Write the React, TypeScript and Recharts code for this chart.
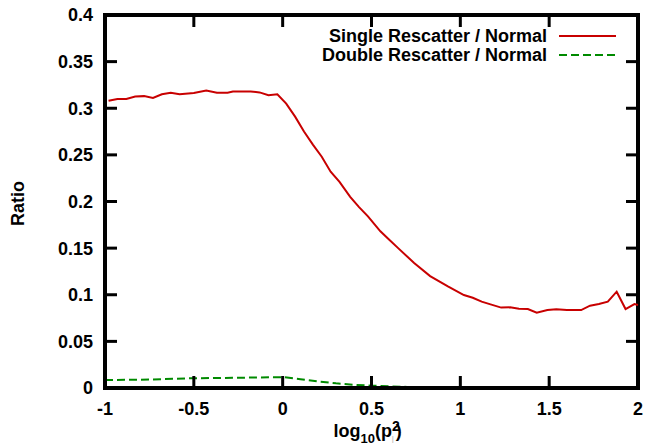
import React, { useEffect, useState } from 'react';
import { LineChart, Line, XAxis, YAxis, ReferenceLine } from 'recharts';

const redX = [-0.98, -0.93, -0.88, -0.83, -0.78, -0.73, -0.68, -0.63, -0.58, -0.5, -0.43, -0.37, -0.31, -0.28, -0.18, -0.13, -0.08, -0.03, 0.02, 0.07, 0.12, 0.17, 0.22, 0.27, 0.32, 0.38, 0.43, 0.48, 0.55, 0.6, 0.65, 0.74, 0.83, 0.93, 1.02, 1.07, 1.12, 1.17, 1.23, 1.28, 1.33, 1.38, 1.43, 1.49, 1.54, 1.6, 1.68, 1.73, 1.78, 1.83, 1.88, 1.93, 1.98, 2.0];
const redY = [0.308, 0.31, 0.31, 0.3125, 0.313, 0.311, 0.315, 0.3167, 0.315, 0.3163, 0.319, 0.3167, 0.3167, 0.318, 0.318, 0.317, 0.314, 0.315, 0.305, 0.291, 0.275, 0.261, 0.248, 0.232, 0.221, 0.205, 0.194, 0.184, 0.168, 0.159, 0.15, 0.134, 0.12, 0.109, 0.0997, 0.0968, 0.0926, 0.0897, 0.0862, 0.0865, 0.085, 0.0847, 0.0808, 0.0836, 0.0844, 0.0836, 0.0836, 0.0883, 0.09, 0.0926, 0.1033, 0.0847, 0.09, 0.089];

const greenX = [-1, -0.75, -0.5, -0.25, -0.05, 0.01, 0.1, 0.2, 0.3, 0.4, 0.5, 0.6, 0.7, 0.8, 0.85];
const greenY = [0.0085, 0.009, 0.0105, 0.011, 0.0115, 0.0115, 0.0095, 0.007, 0.005, 0.0035, 0.0025, 0.0018, 0.0012, 0.0008, 0.0006];

const xTicks = [-1, -0.5, 0, 0.5, 1, 1.5, 2];
const yTicks = [0, 0.05, 0.1, 0.15, 0.2, 0.25, 0.3, 0.35, 0.4];

const seriesNames = ['Single Rescatter / Normal', 'Double Rescatter / Normal'];
const RED = '#c80000';
const GREEN = '#008a00';
const FONT = 'Liberation Sans, Arial, sans-serif';

const redMap = new Map(redX.map((x, i) => [x, redY[i]] as [number, number]));
const greenMap = new Map(greenX.map((x, i) => [x, greenY[i]] as [number, number]));
const allX = Array.from(new Set([...redX, ...greenX])).sort((a, b) => a - b);
const chartData = allX.map((x) => ({
  x,
  red: redMap.has(x) ? redMap.get(x) : null,
  green: greenMap.has(x) ? greenMap.get(x) : null,
}));

const X_MIN = xTicks[0];
const X_MAX = xTicks[xTicks.length - 1];
const Y_MIN = yTicks[0];
const Y_MAX = yTicks[yTicks.length - 1];
const TICK_LEN_Y = 12 / 932.5;
const TICK_LEN_X = 12 / 177.8;

const tickStyle = { fontSize: 18, fontWeight: 700, fill: '#000', fontFamily: FONT };
const axisLineStyle = { stroke: '#000', strokeWidth: 4, strokeLinecap: 'square' as const };
const tickLineStyle = { stroke: '#000', strokeWidth: 3 };

const XLabel = (props: any) => {
  const vb = props.viewBox || {};
  const cx = vb.x + vb.width / 2;
  return (
    <text x={cx - 38} y={437} fontFamily={FONT} fontWeight="bold" fontSize={18} fill="#000">
      log
      <tspan dy={6} fontSize={13}>10</tspan>
      <tspan dy={-6} fontSize={18}>(p</tspan>
      <tspan dy={-6} fontSize={14}>2</tspan>
      <tspan dx={-8} dy={10} fontSize={8} fill="#aaa" fontWeight="normal">|</tspan>
      <tspan dy={-4} dx={2} fontSize={18}>)</tspan>
    </text>
  );
};

const YLabel = (props: any) => {
  const vb = props.viewBox || {};
  const cy = vb.y + vb.height / 2 + 2;
  const x = 17.5;
  return (
    <text
      x={x}
      y={cy}
      transform={`rotate(-90, ${x}, ${cy})`}
      textAnchor="middle"
      dominantBaseline="central"
      fontFamily={FONT}
      fontWeight="bold"
      fontSize={18}
      fill="#000"
    >
      Ratio
    </text>
  );
};

const LegendOverlay = () => (
  <svg width={647} height={70} style={{ position: 'absolute', left: 0, top: 0, pointerEvents: 'none' }}>
    <g fontFamily={FONT} fontWeight="bold" fontSize={18} fill="#000">
      <text x={547} y={42} textAnchor="end">{seriesNames[0]}</text>
      <text x={547} y={61} textAnchor="end">{seriesNames[1]}</text>
    </g>
    <line x1={559} x2={616} y1={36} y2={36} stroke={RED} strokeWidth={2} />
    <line x1={559} x2={616} y1={55} y2={55} stroke={GREEN} strokeWidth={2} strokeDasharray="8 4" />
  </svg>
);

function Ticker() {
  const [n, setN] = useState(0);
  useEffect(() => {
    const a = setTimeout(() => setN(1), 150);
    const b = setTimeout(() => setN(2), 400);
    return () => { clearTimeout(a); clearTimeout(b); };
  }, []);
  return <span data-n={n} style={{ display: 'none' }} />;
}

export default function App() {
  const [tick, setTick] = useState(0);
  useEffect(() => {
    const t = setTimeout(() => setTick(1), 250);
    return () => clearTimeout(t);
  }, []);
  return (
    <div style={{ position: 'absolute', left: 0, top: 0, width: 647, height: 446, background: '#fff' }} data-t={tick}>
      <LineChart width={647} height={446} data={chartData} margin={{ top: 15, right: 9, bottom: 28, left: 45 }}>
        <XAxis
          xAxisId="b"
          dataKey="x"
          type="number"
          domain={[X_MIN, X_MAX]}
          ticks={xTicks}
          height={30}
          tickSize={-12}
          tickMargin={26}
          tick={tickStyle}
          axisLine={axisLineStyle}
          tickLine={tickLineStyle}
          interval={0}
          label={<XLabel />}
        />
        <YAxis
          yAxisId="l"
          type="number"
          domain={[Y_MIN, Y_MAX]}
          ticks={yTicks}
          width={60}
          tickSize={-12}
          tickMargin={24}
          tick={tickStyle}
          axisLine={axisLineStyle}
          tickLine={tickLineStyle}
          interval={0}
          label={<YLabel />}
        />
        <ReferenceLine xAxisId="b" yAxisId="l" y={Y_MAX} stroke="#000" strokeWidth={4} strokeLinecap="square" />
        <ReferenceLine xAxisId="b" yAxisId="l" x={X_MAX} stroke="#000" strokeWidth={4} strokeLinecap="square" />
        {xTicks.slice(1, -1).map((t) => (
          <ReferenceLine key={'tt' + t} xAxisId="b" yAxisId="l" stroke="#000" strokeWidth={3}
            segment={[{ x: t, y: Y_MAX }, { x: t, y: Y_MAX - TICK_LEN_Y }]} />
        ))}
        {yTicks.slice(1, -1).map((t) => (
          <ReferenceLine key={'tr' + t} xAxisId="b" yAxisId="l" stroke="#000" strokeWidth={3}
            segment={[{ x: X_MAX, y: t }, { x: X_MAX - TICK_LEN_X, y: t }]} />
        ))}
        <Line
          xAxisId="b"
          yAxisId="l"
          dataKey="red"
          name={seriesNames[0]}
          stroke={RED}
          strokeWidth={2}
          dot={false}
          connectNulls
          isAnimationActive={false}
        />
        <Line
          xAxisId="b"
          yAxisId="l"
          dataKey="green"
          name={seriesNames[1]}
          stroke={GREEN}
          strokeWidth={2}
          strokeDasharray="8 4"
          dot={false}
          connectNulls
          isAnimationActive={false}
        />
      </LineChart>
      <LegendOverlay />
      <Ticker />
    </div>
  );
}
